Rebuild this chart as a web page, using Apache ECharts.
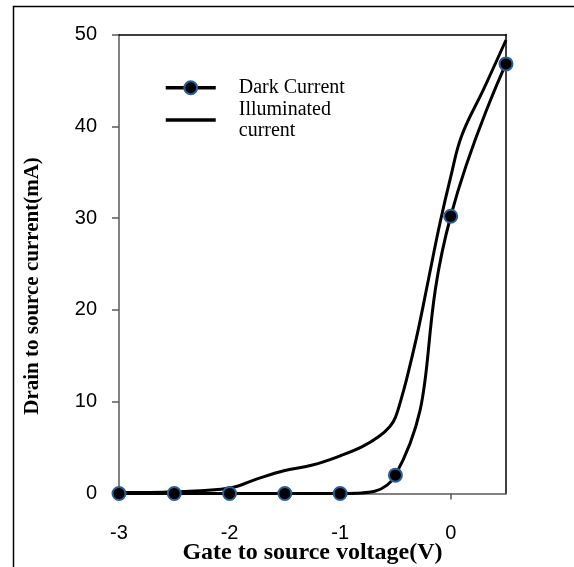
<!DOCTYPE html>
<html>
<head>
<meta charset="utf-8">
<script src="https://cdn.jsdelivr.net/npm/echarts@6/dist/echarts.min.js"></script>
<style>
html,body{margin:0;padding:0;background:#ffffff;}
#chart{width:574px;height:567px;}
</style>
</head>
<body>
<div id="chart"></div>
<script>
// Data
var darkX = [-3, -2.5, -2, -1.5, -1, -0.5, 0, 0.5];
var darkY = [0, 0, 0, 0, 0, 2.0, 30.2, 46.8];

var illumX = [-3, -2.5, -2, -1.75, -1.5, -1.25, -1, -0.8, -0.65, -0.55, -0.5, -0.45, -0.4, -0.3, -0.2, -0.1, 0, 0.1, 0.3, 0.5];
var illumY = [0.1, 0.2, 0.6, 1.6, 2.5, 3.1, 4.1, 5.1, 6.2, 7.3, 8.3, 10.2, 12.4, 17.5, 23.4, 29.3, 34.5, 39.0, 44.1, 49.4];

var xTicks = {min: -3, max: 0.5, interval: 1};
var yTicks = {min: 0, max: 50, interval: 10};

var seriesNames = ['Dark Current', 'Illuminated\ncurrent'];
var xName = 'Gate to source voltage(V)';
var yName = 'Drain to source current(mA)';

function zip(xs, ys) { return xs.map(function (x, i) { return [x, ys[i]]; }); }

var chart = echarts.init(document.getElementById('chart'), null, {renderer: 'canvas'});
var axisGray = '#595959';
var option = {
  backgroundColor: '#ffffff',
  animation: false,
  grid: {left: 119, right: 68, top: 34.5, bottom: 73.5, containLabel: false, outerBoundsMode: 'none'},
  legend: {
    orient: 'vertical',
    left: 164,
    top: 77,
    padding: 0,
    itemWidth: 50,
    itemHeight: 16,
    itemGap: 0,
    lineStyle: {width: 3.5},
    textStyle: {
      fontFamily: 'Liberation Serif',
      fontSize: 20,
      lineHeight: 21.5,
      color: '#000',
      padding: [0, 0, 0, 18]
    },
    data: [
      {name: seriesNames[0]},
      {name: seriesNames[1], itemStyle: {opacity: 0}}
    ]
  },
  xAxis: [{
    type: 'value',
    min: xTicks.min, max: xTicks.max, interval: xTicks.interval,
    name: xName,
    nameLocation: 'middle',
    nameGap: 47,
    nameMoveOverlap: false,
    nameTextStyle: {fontFamily: 'Liberation Serif', fontWeight: 'bold', fontSize: 24, color: '#000'},
    axisLine: {show: true, onZero: false, lineStyle: {color: axisGray, width: 1.5}},
    axisTick: {show: true, length: 6, lineStyle: {color: axisGray, width: 1.5}},
    axisLabel: {margin: 30, fontFamily: 'Liberation Sans', fontSize: 20, color: '#000', showMaxLabel: false},
    splitLine: {show: false}
  }, {
    type: 'value', position: 'top',
    min: xTicks.min, max: xTicks.max, interval: xTicks.interval,
    axisLine: {show: true, onZero: false, lineStyle: {color: '#000', width: 1.5}},
    axisTick: {show: false}, axisLabel: {show: false}, splitLine: {show: false}
  }],
  yAxis: [{
    type: 'value',
    min: yTicks.min, max: yTicks.max, interval: yTicks.interval,
    name: yName,
    nameLocation: 'middle',
    nameGap: 76,
    nameMoveOverlap: false,
    nameTextStyle: {fontFamily: 'Liberation Serif', fontWeight: 'bold', fontSize: 21, color: '#000', padding: [0, 44, 0, 0]},
    axisLine: {show: true, onZero: false, lineStyle: {color: axisGray, width: 1.5}},
    axisTick: {show: true, length: 7, lineStyle: {color: axisGray, width: 1.5}},
    axisLabel: {margin: 22, fontFamily: 'Liberation Sans', fontSize: 20, color: '#000'},
    splitLine: {show: false}
  }, {
    type: 'value', position: 'right',
    min: yTicks.min, max: yTicks.max, interval: yTicks.interval,
    axisLine: {show: true, onZero: false, lineStyle: {color: '#000', width: 1.5}},
    axisTick: {show: false}, axisLabel: {show: false}, splitLine: {show: false}
  }],
  series: [{
    name: seriesNames[0],
    type: 'line',
    data: zip(darkX, darkY),
    smooth: 0.5,
    symbol: 'circle',
    symbolSize: 13,
    lineStyle: {color: '#000', width: 3},
    itemStyle: {color: '#000', borderColor: '#2a5f97', borderWidth: 2},
    z: 3
  }, {
    name: seriesNames[1],
    type: 'line',
    data: zip(illumX, illumY),
    smooth: 0.4,
    showSymbol: false,
    lineStyle: {color: '#000', width: 3},
    itemStyle: {color: '#000'},
    z: 2
  }],
  graphic: [{
    type: 'rect',
    silent: true,
    shape: {x: 13.5, y: 6.5, width: 800, height: 800},
    style: {fill: null, stroke: '#000', lineWidth: 1.5},
    z: -1
  }]
};
chart.setOption(option);
</script>
</body>
</html>
